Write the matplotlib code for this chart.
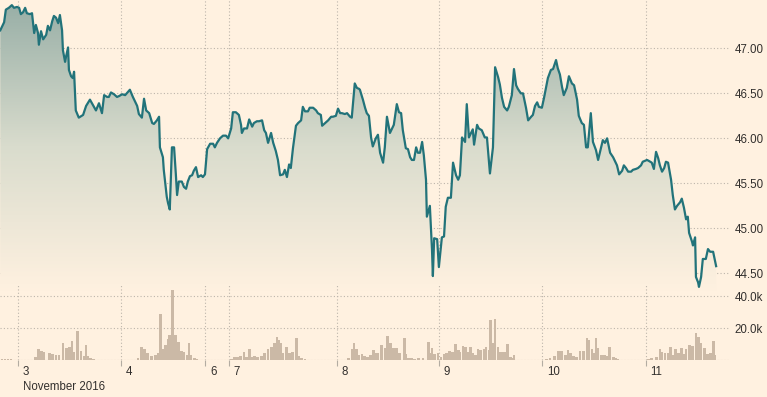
import numpy as np
import matplotlib
matplotlib.use('Agg')
import matplotlib.pyplot as plt
from matplotlib.colors import LinearSegmentedColormap

# time axis: trading hours on the chart's compressed scale, 0 = start of Nov 3
day_pos = [0.0, 24.0, 43.6, 49.0, 74.2, 98.1, 122.1, 146.2]
day_labels = ['3', '4', '6', '7', '8', '9', '10', '11']

price_h = [
    -4.2, -3.3, -2.9, -2.2, -1.5, -1.0, -0.3, 0.2, 0.6, 1.1,
    1.6, 2.0, 2.7, 3.2, 3.7, 4.1, 4.6, 4.8, 5.3, 5.8,
    6.5, 6.9, 7.4, 7.9, 8.3, 8.8, 9.3, 9.7, 10.2, 10.4,
    10.9, 11.1, 11.6, 11.8, 12.3, 12.7, 13.0, 13.4, 14.1, 15.1,
    15.8, 16.7, 17.4, 18.1, 18.8, 19.5, 20.0, 20.7, 21.1, 21.6,
    22.3, 23.0, 23.5,
    24.2, 24.9, 26.0, 26.7, 27.7, 28.1, 28.8, 29.3, 29.8, 30.5,
    31.2, 31.6, 32.3, 32.8, 33.0, 33.7, 33.9, 34.6, 34.9, 35.3,
    35.8, 36.3, 36.7, 37.0, 37.4, 38.1, 38.6, 39.1, 39.5, 40.0,
    40.5, 40.9, 41.4, 41.9, 42.6, 43.0, 43.5, 44.0, 44.7, 45.4,
    45.8, 46.3, 47.0, 47.7, 48.4, 48.9, 49.6, 50.0, 50.7, 51.4,
    51.9, 52.1,
    52.6, 53.3, 53.8, 54.5, 54.9, 55.6, 56.1, 56.8, 57.3, 57.7,
    58.2, 58.9, 59.4, 60.0, 60.5, 61.0, 61.7, 62.1, 62.6, 63.1,
    63.5, 64.0, 64.7, 65.2, 65.9, 66.3, 66.8, 67.5, 67.9, 68.7,
    69.4, 69.8, 70.5, 70.8, 71.5, 72.2, 72.9, 73.3, 74.0, 74.5,
    75.0, 75.4, 76.1, 76.6, 77.3, 77.7, 78.4, 78.9, 79.4,
    79.6, 80.3, 80.8, 81.2, 81.7, 82.2, 82.6, 83.3, 83.8, 84.3,
    85.0, 85.4, 85.9, 86.6, 87.1, 87.5, 88.2, 88.7, 89.2, 89.6,
    90.3, 90.8, 91.3, 91.7, 92.2, 92.7, 93.1, 93.6, 94.1, 94.5,
    95.0, 95.2, 95.9, 96.4, 96.6, 96.9, 97.6, 98.0, 98.7, 99.2,
    99.6, 100.1, 100.8, 101.3, 102.0, 102.5, 102.9, 103.4, 104.1, 104.5,
    105.0, 105.5, 105.9, 106.2, 106.9, 107.3, 108.0,
    108.7, 109.2, 109.9, 110.6, 111.1, 111.8, 112.2, 112.7, 113.2, 113.9,
    114.3, 115.0, 115.5, 116.0, 116.4, 117.1, 117.6, 118.3, 118.8, 119.5,
    119.9, 120.4, 120.9, 121.3, 122.0, 122.5, 123.0, 123.4, 124.1, 124.6,
    125.3, 125.7, 126.2, 126.7, 127.1, 127.8, 128.3, 129.0, 129.5, 130.2,
    130.6, 131.3, 131.8, 132.3, 132.7, 133.4, 133.9, 134.6, 135.1, 135.8,
    136.2, 136.7, 137.2, 137.9, 138.6, 139.0, 139.5, 140.0, 140.7, 141.1,
    141.6, 142.1, 142.8, 143.2, 143.9, 144.4, 145.1, 145.5, 146.0, 146.5,
    146.9, 147.6, 148.1, 148.6, 149.1, 149.5, 150.0, 150.5, 150.9, 151.4,
    152.1, 152.5, 153.0, 153.5, 154.2, 154.6, 155.1, 155.6, 156.0, 156.3,
    157.0, 157.2, 157.7, 157.9, 158.4, 158.6, 159.1, 159.5, 160.2, 160.7,
    161.2, 161.9, 162.6,
]
price = [
    47.20, 47.29, 47.43, 47.45, 47.48, 47.45, 47.46, 47.45, 47.38, 47.40,
    47.45, 47.39, 47.38, 47.39, 47.17, 47.26, 47.17, 47.04, 47.19, 47.10,
    47.15, 47.25, 47.20, 47.30, 47.36, 47.34, 47.28, 47.37, 47.20, 46.98,
    46.85, 46.90, 47.01, 46.76, 46.69, 46.67, 46.74, 46.31, 46.23, 46.26,
    46.36, 46.43, 46.37, 46.31, 46.39, 46.28, 46.48, 46.46, 46.46, 46.51,
    46.49, 46.46, 46.47,
    46.49, 46.48, 46.54, 46.46, 46.36, 46.27, 46.23, 46.44, 46.31, 46.28,
    46.17, 46.16, 46.20, 46.24, 45.90, 45.79, 45.65, 45.35, 45.28, 45.21,
    45.90, 45.90, 45.61, 45.37, 45.52, 45.52, 45.46, 45.44, 45.52, 45.58,
    45.59, 45.64, 45.68, 45.57, 45.59, 45.57, 45.60, 45.88, 45.94, 45.94,
    45.90, 45.95, 46.00, 46.03, 46.03, 46.00, 46.11, 46.29, 46.29, 46.26,
    46.15, 46.06,
    46.11, 46.11, 46.21, 46.13, 46.17, 46.19, 46.19, 46.20, 46.09, 46.06,
    45.95, 46.06, 45.95, 45.86, 45.76, 45.59, 45.60, 45.65, 45.57, 45.71,
    45.67, 45.89, 46.14, 46.17, 46.20, 46.35, 46.30, 46.30, 46.34, 46.34,
    46.31, 46.28, 46.26, 46.14, 46.17, 46.20, 46.24, 46.24, 46.25, 46.33,
    46.28, 46.28, 46.27, 46.28, 46.24, 46.23, 46.61, 46.56, 46.55,
    46.54, 46.43, 46.34, 46.28, 46.25, 46.01, 45.91, 46.00, 46.04, 45.84,
    45.73, 45.90, 46.24, 46.06, 46.11, 46.15, 46.38, 46.29, 46.28, 46.09,
    45.89, 45.88, 45.79, 45.76, 45.76, 45.90, 45.84, 45.84, 45.96, 45.81,
    45.54, 45.13, 45.25, 44.76, 44.47, 44.89, 44.88, 44.57, 44.90, 44.91,
    45.24, 45.34, 45.34, 45.73, 45.59, 45.54, 45.59, 46.01, 45.96, 46.38,
    46.01, 46.06, 46.10, 45.93, 46.15, 46.11, 46.09,
    46.01, 46.01, 45.61, 45.90, 46.79, 46.68, 46.60, 46.45, 46.35, 46.31,
    46.35, 46.48, 46.77, 46.59, 46.55, 46.50, 46.50, 46.34, 46.20, 46.24,
    46.26, 46.36, 46.40, 46.35, 46.34, 46.45, 46.57, 46.67, 46.76, 46.77,
    46.87, 46.78, 46.71, 46.57, 46.48, 46.56, 46.69, 46.61, 46.59, 46.43,
    46.25, 46.17, 46.15, 45.90, 45.90, 46.28, 45.96, 45.87, 45.76, 45.90,
    45.98, 45.95, 46.00, 45.84, 45.79, 45.75, 45.70, 45.60, 45.64, 45.70,
    45.67, 45.63, 45.63, 45.65, 45.66, 45.67, 45.70, 45.74, 45.75, 45.76,
    45.75, 45.73, 45.66, 45.85, 45.78, 45.70, 45.63, 45.67, 45.74, 45.73,
    45.54, 45.37, 45.21, 45.25, 45.29, 45.33, 45.23, 45.10, 45.13, 44.95,
    44.85, 44.81, 44.90, 44.46, 44.40, 44.35, 44.46, 44.66, 44.66, 44.77,
    44.74, 44.74, 44.58,
]

# volume bars (thousands)
vol_h = [
    -3.8, -3.1, -2.4, -1.7, 4.0, 4.8, 5.5, 6.0, 7.2, 7.9, 8.8, 9.5,
    10.4, 11.2, 12.0, 12.5, 13.0, 13.8, 14.6, 15.3, 15.8, 16.2, 16.9, 17.6,
    27.9, 28.8, 29.4, 30.2, 31.0, 31.9, 32.6, 33.2, 33.7, 34.3, 34.9, 35.3,
    35.9, 36.3, 36.7, 37.4, 38.1, 38.6, 39.3, 39.8, 40.2, 41.1, 41.6,
    49.6, 50.3, 51.0, 51.8, 52.6, 53.2, 53.8, 54.3, 55.0, 55.8, 56.7, 57.4,
    58.2, 59.0, 59.7, 60.3, 60.7, 61.2, 61.7, 62.5, 63.2, 63.9, 64.8, 65.3,
    66.0, 66.8,
    76.9, 77.8, 78.2, 78.8, 79.4, 80.1, 80.7, 81.4, 82.0, 82.7, 83.2, 83.8,
    84.6, 85.6, 86.1, 86.7, 87.4, 88.1, 88.9, 89.9, 90.3, 90.9, 91.6, 92.3,
    93.2, 94.3, 95.5, 95.9, 96.4, 97.0, 97.8, 98.5, 99.2, 99.8, 100.5, 101.1,
    101.9, 102.5, 102.9, 103.6, 104.2, 104.8, 105.4, 105.9, 106.6, 107.1, 107.7, 108.5,
    109.0, 109.7, 110.1, 110.6, 111.1, 111.8, 112.2, 112.9, 113.5, 114.0, 114.6, 115.0,
    115.5,
    123.1, 123.9, 124.9, 125.9, 126.6, 127.5, 128.1, 128.7, 129.4, 130.0, 130.9, 131.7,
    132.5, 133.0, 133.7, 134.1, 134.6, 135.1, 135.8, 136.6, 137.2, 137.8, 138.6, 139.1,
    139.7,
    146.8, 147.5, 148.7, 149.5, 150.0, 150.7, 151.4, 152.0, 152.5, 153.2, 153.8, 154.5,
    155.1, 155.6, 156.4, 157.1, 157.9, 158.5, 159.1, 159.8, 160.6, 161.2, 161.9, 162.3,
]
vol_k = [
    0.6, 0.6, 0.8, 0.8, 2.3, 7.0, 6.0, 5.0, 4.4, 3.8, 3.0, 3.3,
    10.6, 7.5, 8.5, 12.0, 5.4, 18.0, 5.8, 2.9, 9.6, 2.7, 1.2, 0.8,
    1.2, 8.0, 7.0, 4.8, 2.7, 3.1, 4.8, 29.0, 7.0, 9.6, 13.0, 16.0,
    44.0, 11.7, 16.0, 11.7, 6.0, 5.4, 3.3, 11.0, 3.3, 1.2, 0.6,
    0.8, 1.8, 2.3, 2.7, 5.4, 2.3, 7.0, 2.3, 2.7, 1.9, 2.7, 4.4,
    7.0, 8.5, 10.6, 14.4, 12.7, 11.0, 4.8, 8.5, 4.8, 5.4, 13.8, 2.7,
    1.7, 0.8,
    1.2, 7.0, 10.6, 7.0, 3.3, 4.0, 2.7, 1.9, 3.3, 6.5, 4.8, 4.4,
    9.6, 7.5, 15.2, 10.6, 7.5, 7.5, 4.8, 13.8, 4.0, 1.2, 1.7, 0.6,
    1.2, 1.7, 11.7, 4.4, 7.5, 4.0, 4.8, 2.3, 4.0, 4.4, 6.0, 5.4,
    10.2, 6.5, 5.4, 9.0, 8.0, 5.4, 8.5, 4.4, 3.3, 7.0, 6.5, 7.0,
    8.5, 6.5, 25.0, 11.0, 26.0, 8.0, 5.4, 5.4, 5.4, 10.2, 1.9, 1.2,
    3.3,
    0.8, 1.2, 2.7, 6.0, 6.0, 3.3, 6.5, 4.4, 2.7, 1.9, 6.0, 6.0,
    13.8, 12.7, 7.0, 4.4, 13.8, 7.5, 3.3, 3.3, 2.7, 8.5, 1.9, 1.2,
    0.8,
    0.8, 1.2, 1.9, 7.0, 5.4, 4.8, 4.4, 8.5, 3.3, 7.0, 4.8, 7.5,
    4.0, 7.0, 9.6, 9.2, 17.3, 14.4, 10.6, 7.5, 4.0, 4.4, 12.3, 3.3,
]

price_ticks = [44.5, 45.0, 45.5, 46.0, 46.5, 47.0]
vol_ticks = [20, 40]

BG = '#fff1e0'
LINE = '#22737a'
BAR = '#cbb9a6'
GRID = '#bdb5ab'
TXT = '#33302e'

plt.rcParams['font.family'] = ['Liberation Sans', 'DejaVu Sans']

W, H = 767.0, 397.0
fig = plt.figure(figsize=(W / 100, H / 100), dpi=100, facecolor=BG)
ax = fig.add_axes([0, (H - 292) / H, 729 / W, 292 / H])
axv = fig.add_axes([0, (H - 360.3) / H, 729 / W, 75.3 / H], sharex=ax)
for a in (ax, axv):
    a.patch.set_visible(False)
    for s in a.spines.values():
        s.set_visible(False)

x0, x1 = -4.26, 165.6
ylo, yhi = 44.293, 47.537
ax.set_xlim(x0, x1)
ax.set_ylim(ylo, yhi)

# gradient area under the price line, fading into the background
grad = np.linspace(0, 1, 256).reshape(-1, 1)
cmap = LinearSegmentedColormap.from_list('fill', ['#97aea6', '#d9dccd', BG])
im = ax.imshow(grad, cmap=cmap, aspect='auto', extent=[x0, x1, ylo, yhi],
               origin='upper', zorder=1)
poly = ax.fill_between(price_h, price, ylo, facecolor='none', edgecolor='none')
im.set_clip_path(poly.get_paths()[0], transform=ax.transData)
ax.plot(price_h, price, color=LINE, lw=1.6, zorder=3, solid_joinstyle='round')

ax.set_xticks(day_pos)
ax.set_yticks(price_ticks)
ax.set_yticklabels(['%.2f' % v for v in price_ticks])
ax.yaxis.tick_right()
ax.tick_params(axis='y', length=0, pad=4, labelsize=8.3, labelcolor=TXT)
ax.tick_params(axis='x', length=0, labelbottom=False)
ax.grid(True, ls=(0, (1, 2)), color=GRID, lw=0.8)
ax.set_axisbelow(True)

# volume panel
axv.set_ylim(0, 47.06)
axv.bar(vol_h, vol_k, width=0.65, color=BAR, linewidth=0, zorder=2)
axv.axhline(0.35, color=BAR, lw=0.8, dashes=(2.1, 0.9), zorder=1.5)
axv.set_yticks(vol_ticks)
axv.set_yticklabels(['%.1fk' % v for v in vol_ticks])
axv.yaxis.tick_right()
axv.tick_params(axis='y', length=0, pad=4, labelsize=8.3, labelcolor=TXT)
axv.set_xticks(day_pos)
axv.tick_params(axis='x', length=4.5, width=0.8, color='#b3aca2',
                direction='out', labelbottom=False)
axv.grid(True, ls=(0, (1, 2)), color=GRID, lw=0.8)
axv.set_axisbelow(True)

for pos, lbl in zip(day_pos, day_labels):
    axv.annotate(lbl, xy=(pos, 0), xycoords=('data', 'axes fraction'),
                 xytext=(3.3, -8.4), textcoords='offset points',
                 ha='left', va='center', fontsize=8.3, color=TXT)
axv.annotate('November 2016', xy=(day_pos[0], 0), xycoords=('data', 'axes fraction'),
             xytext=(3.3, -19.4), textcoords='offset points',
             ha='left', va='center', fontsize=8.3, color=TXT)

fig.savefig('out.png', dpi=100, facecolor=BG)
